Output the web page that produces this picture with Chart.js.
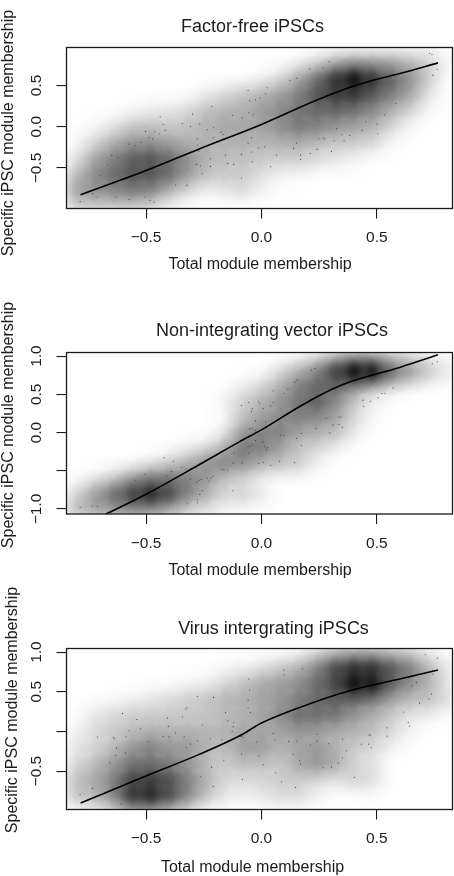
<!DOCTYPE html>
<html>
<head>
<meta charset="utf-8">
<title>iPSC module membership</title>
<script src="https://cdn.jsdelivr.net/npm/chart.js@4"></script>
<style>
  html, body { margin: 0; padding: 0; background: #fff; overflow: hidden; }
  canvas { position: absolute; left: 0; }
</style>
</head>
<body>
<canvas id="chart1" width="454" height="290" style="top:0"></canvas>
<canvas id="chart2" width="454" height="290" style="top:295px"></canvas>
<canvas id="chart3" width="454" height="290" style="top:586px"></canvas>
<script>
const xTicks = [-0.5, 0, 0.5];
const xTickLabels = ["\u22120.5", "0.0", "0.5"];
const xLabel = "Total module membership";
const yLabel = "Specific iPSC module membership";
// columns of the density rows below
const densityX = [-0.8, -0.72, -0.64, -0.56, -0.48, -0.4, -0.32, -0.24, -0.16, -0.08, 0, 0.08, 0.16, 0.24, 0.32, 0.4, 0.48, 0.56, 0.64, 0.72, 0.8];

// Factor-free
const title1 = "Factor-free iPSCs";
const yTicks1 = [-0.5, 0, 0.5];
const yTickLabels1 = ["\u22120.5", "0.0", "0.5"];
const pointsX1 = [-0.786,-0.733,-0.711,-0.629,-0.573,-0.505,-0.483,-0.466,-0.697,-0.667,-0.649,-0.623,-0.576,-0.548,-0.522,-0.502,-0.488,-0.472,-0.462,-0.444,-0.439,-0.426,-0.417,-0.372,-0.323,-0.343,-0.307,-0.299,-0.267,-0.278,-0.278,-0.271,-0.281,-0.264,-0.257,-0.235,-0.216,-0.208,-0.221,-0.221,-0.209,-0.175,-0.166,-0.156,-0.146,-0.120,-0.126,-0.084,-0.087,-0.087,-0.058,-0.051,-0.026,-0.007,0.017,0.025,-0.055,-0.036,-0.043,-0.058,-0.043,-0.040,-0.012,0.014,0.040,0.065,0.123,0.154,0.209,0.267,0.293,0.139,0.152,0.170,0.170,0.212,0.241,0.248,0.267,0.274,0.303,0.315,0.325,0.348,0.358,0.382,0.436,0.452,0.501,0.504,0.534,0.583,0.729,0.739,0.762,0.743];
const pointsY1 = [-0.907,-0.810,-0.851,-0.851,-0.883,-0.851,-0.891,-0.915,-0.593,-0.464,-0.347,-0.375,-0.210,-0.230,-0.190,-0.056,-0.133,-0.149,-0.060,-0.085,0.121,0.028,-0.044,-0.706,-0.710,0.040,0.004,0.153,0.032,-0.145,-0.222,-0.294,-0.456,-0.476,-0.569,-0.036,0.246,-0.012,-0.387,-0.480,-0.133,-0.065,-0.093,-0.343,-0.444,-0.456,0.137,0.109,-0.621,-0.335,0.440,0.315,0.327,0.351,0.399,0.472,0.169,0.145,-0.133,-0.198,-0.306,-0.423,-0.258,-0.242,-0.484,-0.343,0.560,0.589,0.702,0.714,0.786,-0.262,-0.198,-0.343,-0.395,-0.323,-0.274,-0.145,-0.133,-0.149,-0.298,-0.169,-0.024,-0.097,-0.169,-0.105,-0.044,0.060,0.032,-0.085,0.145,0.282,0.891,0.875,0.694,0.625];
const curveX1 = [-0.784,-0.5,-0.267,0,0.238,0.397,0.5,0.6,0.765];
const curveY1 = [-0.823,-0.53,-0.266,0.028,0.32,0.49,0.575,0.645,0.774];
const densityY1 = [0.95,0.76,0.57,0.38,0.19,0,-0.19,-0.38,-0.57,-0.76,-0.95];
const density1 = [
  [0,0,0,0,0,0,0,0,0,0,0,0,0,0,0,0,0,0,0,0.04,0],
  [0,0,0,0,0,0,0,0,0,0,0,0,0.05,0.15,0.3,0.4,0.4,0.4,0.3,0.2,0.05],
  [0,0,0,0,0,0,0,0,0,0,0.05,0.15,0.35,0.6,0.85,0.98,0.85,0.65,0.45,0.2,0],
  [0,0,0,0,0,0,0,0.08,0.15,0.25,0.3,0.4,0.5,0.7,0.8,0.8,0.65,0.5,0.35,0.1,0],
  [0,0,0,0.03,0.06,0.1,0.15,0.25,0.3,0.3,0.4,0.45,0.55,0.6,0.6,0.55,0.45,0.3,0.15,0.02,0],
  [0,0.03,0.1,0.22,0.25,0.2,0.25,0.3,0.35,0.35,0.35,0.45,0.55,0.5,0.4,0.35,0.3,0.15,0.03,0,0],
  [0.02,0.15,0.3,0.4,0.4,0.35,0.3,0.3,0.3,0.3,0.3,0.3,0.3,0.25,0.2,0.2,0.15,0.03,0,0,0],
  [0.1,0.35,0.5,0.65,0.7,0.6,0.45,0.3,0.25,0.25,0.2,0.2,0.2,0.15,0.1,0.05,0,0,0,0,0],
  [0.25,0.45,0.6,0.7,0.7,0.6,0.4,0.25,0.2,0.2,0.12,0.05,0.03,0,0,0,0,0,0,0,0],
  [0.4,0.45,0.5,0.55,0.5,0.3,0.15,0.05,0.1,0.15,0.05,0,0,0,0,0,0,0,0,0,0],
  [0.2,0.2,0.2,0.2,0.15,0.05,0,0,0,0,0,0,0,0,0,0,0,0,0,0,0]
];

// Non-integrating vector
const title2 = "Non-integrating vector iPSCs";
const yTicks2 = [-1, -0.5, 0, 0.5, 1];
const yTickLabels2 = ["\u22121.0", "", "0.0", "0.5", "1.0"];
const pointsX2 = [-0.786,-0.733,-0.711,-0.545,-0.505,-0.423,-0.382,-0.411,-0.390,-0.345,-0.328,-0.307,-0.281,-0.271,-0.261,-0.235,-0.227,-0.218,-0.209,-0.218,-0.322,-0.278,-0.278,-0.267,-0.257,-0.175,-0.163,-0.146,-0.124,-0.123,-0.120,-0.084,-0.089,-0.076,-0.087,-0.055,-0.040,-0.043,-0.013,-0.007,0.007,0.040,0.051,0.051,0.097,0.115,0.144,0.154,0.216,0.231,-0.026,-0.051,-0.040,-0.026,-0.026,0.007,-0.058,-0.048,-0.055,-0.040,0.014,0.022,0.025,-0.012,0.007,0.040,0.079,0.144,0.017,0.082,0.097,0.152,0.173,0.173,0.235,0.281,0.296,0.310,0.336,0.346,0.336,0.351,0.440,0.443,0.472,0.505,0.522,0.535,0.570,0.740,0.762];
const pointsY2 = [-0.978,-0.961,-0.965,-0.624,-0.546,-0.328,-0.376,-0.568,-0.511,-0.454,-0.476,-0.607,-0.651,-0.624,-0.611,-0.594,-0.633,-0.594,-0.572,-0.336,-0.930,-0.878,-0.917,-0.808,-0.760,-0.480,-0.485,-0.489,-0.760,-0.397,-0.266,-0.397,-0.105,-0.083,0.354,0.393,0.310,0.275,0.402,0.376,0.314,0.349,0.397,0.546,0.511,0.568,0.659,0.686,0.817,0.838,0.153,0.048,0.057,0.031,-0.105,-0.122,-0.183,-0.183,-0.271,-0.157,-0.183,-0.227,-0.197,-0.402,-0.393,-0.428,-0.376,-0.393,0.140,-0.031,-0.039,-0.074,-0.009,-0.170,0.052,0.188,-0.004,0.100,0.205,0.201,0.109,0.070,0.424,0.345,0.410,0.454,0.511,0.515,0.585,0.900,0.926];
const curveX2 = [-0.674,-0.498,-0.267,-0.094,0,0.166,0.31,0.397,0.599,0.765];
const curveY2 = [-1.066,-0.803,-0.415,-0.118,0.035,0.341,0.572,0.677,0.852,1.017];
const densityY2 = [1,0.8,0.6,0.4,0.2,0,-0.2,-0.4,-0.6,-0.8,-1];
const density2 = [
  [0,0,0,0,0,0,0,0,0,0,0,0,0,0.05,0.15,0.2,0.2,0.15,0.1,0.05,0],
  [0,0,0,0,0,0,0,0,0,0,0,0.12,0.3,0.5,0.8,0.97,0.95,0.65,0.45,0.25,0.1],
  [0,0,0,0,0,0,0,0,0,0.05,0.15,0.3,0.5,0.6,0.6,0.4,0.2,0.1,0.02,0,0],
  [0,0,0,0,0,0,0,0,0.05,0.2,0.3,0.4,0.55,0.65,0.45,0.2,0.05,0,0,0,0],
  [0,0,0,0,0,0,0,0,0.02,0.2,0.35,0.45,0.5,0.45,0.35,0.15,0.03,0,0,0,0],
  [0,0,0,0,0,0,0,0,0.05,0.4,0.5,0.5,0.35,0.3,0.25,0.08,0,0,0,0,0],
  [0,0,0,0,0,0,0.05,0.1,0.3,0.55,0.5,0.35,0.2,0.15,0.05,0,0,0,0,0,0],
  [0,0,0,0,0.05,0.15,0.3,0.45,0.5,0.45,0.3,0.25,0.2,0.05,0,0,0,0,0,0,0],
  [0,0.05,0.15,0.35,0.5,0.55,0.5,0.4,0.2,0.1,0.02,0,0,0,0,0,0,0,0,0,0],
  [0.15,0.4,0.6,0.8,0.9,0.75,0.5,0.3,0.15,0.2,0.1,0,0,0,0,0,0,0,0,0,0],
  [0.3,0.35,0.4,0.45,0.4,0.3,0.15,0.1,0.05,0,0,0,0,0,0,0,0,0,0,0,0]
];

// Virus integrating
const title3 = "Virus intergrating iPSCs";
const yTicks3 = [-0.5, 0, 0.5, 1];
const yTickLabels3 = ["\u22120.5", "", "0.5", "1.0"];
const pointsX3 = [-0.786,-0.733,-0.609,-0.657,-0.632,-0.628,-0.589,-0.711,-0.642,-0.638,-0.587,-0.574,-0.602,-0.540,-0.524,-0.492,-0.426,-0.407,-0.404,-0.401,-0.372,-0.343,-0.335,-0.329,-0.323,-0.326,-0.307,-0.277,-0.278,-0.271,-0.257,-0.263,-0.216,-0.208,-0.209,-0.221,-0.173,-0.163,-0.156,-0.146,-0.120,-0.123,-0.127,-0.087,-0.079,-0.087,-0.082,-0.058,-0.058,-0.051,-0.055,-0.048,-0.022,-0.012,0.007,0.051,0.058,0.061,0.087,0.147,0.097,0.100,0.177,0.118,0.137,0.154,0.166,0.169,0.212,0.241,0.241,0.291,0.267,0.303,0.332,0.351,0.368,0.351,0.404,0.433,0.465,0.466,0.472,0.476,0.544,0.545,0.616,0.636,0.642,0.651,0.671,0.685,0.726,0.737,0.710,0.762,0.743];
const pointsY3 = [-0.798,-0.718,-0.912,-0.395,-0.303,-0.210,-0.273,-0.071,-0.076,-0.092,-0.067,0.008,0.227,0.151,0.034,-0.130,-0.063,0.168,0.063,-0.067,-0.021,0.185,-0.067,0.282,0.298,-0.202,-0.160,-0.118,0.441,-0.286,0.080,-0.571,-0.450,0.429,-0.693,-0.092,-0.101,-0.370,0.239,0.134,0.113,0.059,0,-0.063,-0.080,-0.286,-0.605,0.391,0.294,0.521,0.660,0.239,-0.134,-0.307,-0.420,-0.025,-0.109,-0.521,-0.634,-0.706,0.773,0.714,0.790,-0.126,-0.290,-0.122,-0.370,-0.412,-0.172,-0.034,-0.122,-0.155,-0.458,-0.450,-0.399,-0.332,-0.244,-0.097,-0.580,-0.160,-0.160,-0.046,-0.046,-0.206,0.046,-0.059,0.244,0.113,0.067,0.571,0.618,0.357,0.408,0.471,0.966,0.924,0.723];
const curveX3 = [-0.784,-0.498,-0.267,-0.094,0,0.166,0.382,0.599,0.765];
const curveY3 = [-0.903,-0.559,-0.286,-0.055,0.105,0.303,0.513,0.66,0.773];
const densityY3 = [1,0.8,0.6,0.4,0.2,0,-0.2,-0.4,-0.6,-0.8,-1];
const density3 = [
  [0,0,0,0,0,0,0,0,0,0,0,0,0,0.1,0.2,0.25,0.25,0.2,0.15,0.05,0],
  [0,0,0,0,0,0,0,0,0.02,0.05,0.1,0.2,0.3,0.5,0.75,0.85,0.85,0.7,0.55,0.3,0.1],
  [0,0,0,0,0,0,0.03,0.05,0.15,0.25,0.35,0.4,0.45,0.6,0.75,0.97,0.95,0.65,0.45,0.3,0.1],
  [0,0,0.02,0.05,0.1,0.15,0.2,0.25,0.3,0.3,0.35,0.4,0.5,0.6,0.65,0.6,0.5,0.35,0.25,0.25,0.15],
  [0,0.1,0.15,0.2,0.2,0.2,0.2,0.2,0.25,0.3,0.35,0.45,0.6,0.6,0.55,0.4,0.3,0.2,0.1,0.05,0],
  [0.05,0.15,0.2,0.25,0.3,0.3,0.3,0.3,0.3,0.35,0.35,0.35,0.4,0.35,0.3,0.3,0.25,0.15,0.05,0,0],
  [0.1,0.15,0.25,0.4,0.5,0.4,0.4,0.3,0.25,0.4,0.4,0.3,0.35,0.4,0.3,0.2,0.15,0.05,0,0,0],
  [0.15,0.25,0.4,0.55,0.55,0.5,0.4,0.25,0.2,0.25,0.25,0.2,0.35,0.45,0.35,0.15,0.1,0,0,0,0],
  [0.25,0.35,0.5,0.75,0.8,0.7,0.5,0.3,0.15,0.15,0.15,0.2,0.2,0.15,0.1,0.2,0.15,0,0,0,0],
  [0.25,0.3,0.5,0.85,0.9,0.75,0.5,0.25,0.1,0.05,0.1,0.15,0.15,0.05,0,0,0,0,0,0,0],
  [0,0.05,0.15,0.3,0.3,0.2,0.1,0,0,0,0,0,0,0,0,0,0,0,0,0,0]
];

const textColor = "#1c1c1c";
const fontFamily = "'Liberation Sans', Arial, sans-serif";
const fontSize = 15.5;
const labelSize = 16;
const titleSize = 18;
const kernelRadius = 25;
// how many kernels overlap at one spot, a bit under 2 pi sigma^2 / cell area for darker peaks
const kernelOverlap = 1.95;

const zip = function (xs, ys) {
  return xs.map(function (x, i) { return { x: x, y: ys[i] }; });
};

const densityCells = function (ys, rows) {
  let cells = [];
  rows.forEach(function (row, r) {
    row.forEach(function (v, c) {
      if (v > 0) cells.push({ x: densityX[c], y: ys[r], v: v });
    });
  });
  return cells;
};

const kernelFill = function (context) {
  const chart = context.chart;
  const raw = context.raw;
  if (!raw) return "rgba(0,0,0,0)";
  const px = chart.scales.x.getPixelForValue(raw.x);
  const py = chart.scales.y.getPixelForValue(raw.y);
  // scales have no pixels yet on the first pass
  if (!isFinite(px) || !isFinite(py)) return "rgba(0,0,0,0)";
  const peak = 1 - Math.pow(1 - Math.min(raw.v, 0.97), 1 / kernelOverlap);
  const grad = chart.ctx.createRadialGradient(px, py, 0, px, py, kernelRadius);
  for (let i = 0; i <= 10; i++) {
    const t = i / 10;
    const alpha = i == 10 ? 0 : peak * Math.exp(-Math.pow(t * 2.5, 2) / 2);
    grad.addColorStop(t, `rgba(0,0,0,${alpha})`);
  }
  return grad;
};

// box round the plot and the texts that sit at their own place per panel
const panelFrame = {
  id: "panelFrame",
  afterDraw: function (chart, args, opts) {
    const ctx = chart.ctx;
    const area = chart.chartArea;
    ctx.save();
    ctx.strokeStyle = "#1a1a1a";
    ctx.lineWidth = 1.3;
    ctx.strokeRect(area.left, area.top, area.right - area.left, area.bottom - area.top);
    ctx.fillStyle = textColor;
    ctx.textAlign = "center";
    ctx.textBaseline = "middle";
    ctx.font = `${titleSize}px ${fontFamily}`;
    ctx.fillText(opts.title, opts.titleX, opts.titleY);
    ctx.font = `${labelSize}px ${fontFamily}`;
    ctx.fillText(xLabel, opts.xLabelX, opts.xLabelY);
    ctx.translate(opts.yLabelX, opts.yLabelY);
    ctx.rotate(-Math.PI / 2);
    ctx.fillText(yLabel, 0, 0);
    ctx.restore();
  }
};

const drawPanel = function (id, panel) {
  const config = {
    type: "bubble",
    data: {
      datasets: [
        {
          type: "line",
          order: 0,
          data: zip(panel.curveX, panel.curveY),
          borderColor: "#000",
          borderWidth: 1.6,
          cubicInterpolationMode: "monotone",
          pointRadius: 0,
          fill: false
        },
        {
          type: "scatter",
          order: 1,
          data: zip(panel.pointsX, panel.pointsY),
          backgroundColor: "#333",
          borderWidth: 0,
          pointRadius: 0.55
        },
        {
          type: "bubble",
          order: 2,
          clip: 0,
          data: densityCells(panel.densityY, panel.density),
          backgroundColor: kernelFill,
          borderWidth: 0,
          radius: kernelRadius
        }
      ]
    },
    options: {
      responsive: false,
      animation: false,
      events: [],
      layout: { autoPadding: false, padding: { top: panel.top, right: 1.5, left: 0, bottom: 0 } },
      scales: {
        x: {
          type: "linear",
          min: -0.845,
          max: 0.828,
          afterBuildTicks: function (scale) {
            scale.ticks = xTicks.map(function (v) { return { value: v }; });
          },
          afterFit: function (scale) {
            scale.height = 290 - panel.bottom;
            scale.paddingLeft = 0;
            scale.paddingRight = 0;
          },
          border: { display: false },
          grid: { drawOnChartArea: false, tickLength: 10, color: "#1a1a1a", lineWidth: 1.1 },
          ticks: {
            autoSkip: false,
            maxRotation: 0,
            padding: 10,
            color: textColor,
            font: { family: fontFamily, size: fontSize },
            callback: function (v, i) { return xTickLabels[i]; }
          }
        },
        y: {
          type: "linear",
          min: panel.yMin,
          max: panel.yMax,
          afterBuildTicks: function (scale) {
            scale.ticks = panel.yTicks.map(function (v) { return { value: v }; });
          },
          afterFit: function (scale) {
            scale.width = 66.5;
            scale.paddingTop = 0;
            scale.paddingBottom = 0;
          },
          border: { display: false },
          grid: { drawOnChartArea: false, tickLength: 10, color: "#1a1a1a", lineWidth: 1.1 },
          ticks: {
            autoSkip: false,
            minRotation: 90,
            maxRotation: 90,
            crossAlign: "center",
            padding: 4,
            color: textColor,
            font: { family: fontFamily, size: fontSize },
            callback: function (v, i) { return panel.yTickLabels[i]; }
          }
        }
      },
      plugins: {
        legend: { display: false },
        tooltip: { enabled: false },
        panelFrame: {
          title: panel.title,
          titleX: panel.titleX,
          titleY: panel.titleY,
          xLabelX: panel.xLabelX,
          xLabelY: panel.xLabelY,
          yLabelX: panel.yLabelX,
          yLabelY: panel.yLabelY
        }
      }
    },
    plugins: [panelFrame]
  };
  return new Chart(document.getElementById(id), config);
};

document.addEventListener("DOMContentLoaded", function () {
  drawPanel("chart1", {
    title: title1, yTicks: yTicks1, yTickLabels: yTickLabels1,
    pointsX: pointsX1, pointsY: pointsY1, curveX: curveX1, curveY: curveY1,
    densityY: densityY1, density: density1,
    yMin: -0.99, yMax: 0.96, top: 47.5, bottom: 208.5,
    titleX: 252.5, titleY: 27, xLabelX: 260, xLabelY: 265, yLabelX: 8.5, yLabelY: 133
  });
  drawPanel("chart2", {
    title: title2, yTicks: yTicks2, yTickLabels: yTickLabels2,
    pointsX: pointsX2, pointsY: pointsY2, curveX: curveX2, curveY: curveY2,
    densityY: densityY2, density: density2,
    yMin: -1.065, yMax: 1.047, top: 57.5, bottom: 219,
    titleX: 272, titleY: 36, xLabelX: 260, xLabelY: 276, yLabelX: 8.5, yLabelY: 130
  });
  drawPanel("chart3", {
    title: title3, yTicks: yTicks3, yTickLabels: yTickLabels3,
    pointsX: pointsX3, pointsY: pointsY3, curveX: curveX3, curveY: curveY3,
    densityY: densityY3, density: density3,
    yMin: -0.984, yMax: 1.045, top: 62.5, bottom: 223.5,
    titleX: 273.5, titleY: 43.5, xLabelX: 252.5, xLabelY: 281.5, yLabelX: 12.5, yLabelY: 124
  });
});
</script>
</body>
</html>
